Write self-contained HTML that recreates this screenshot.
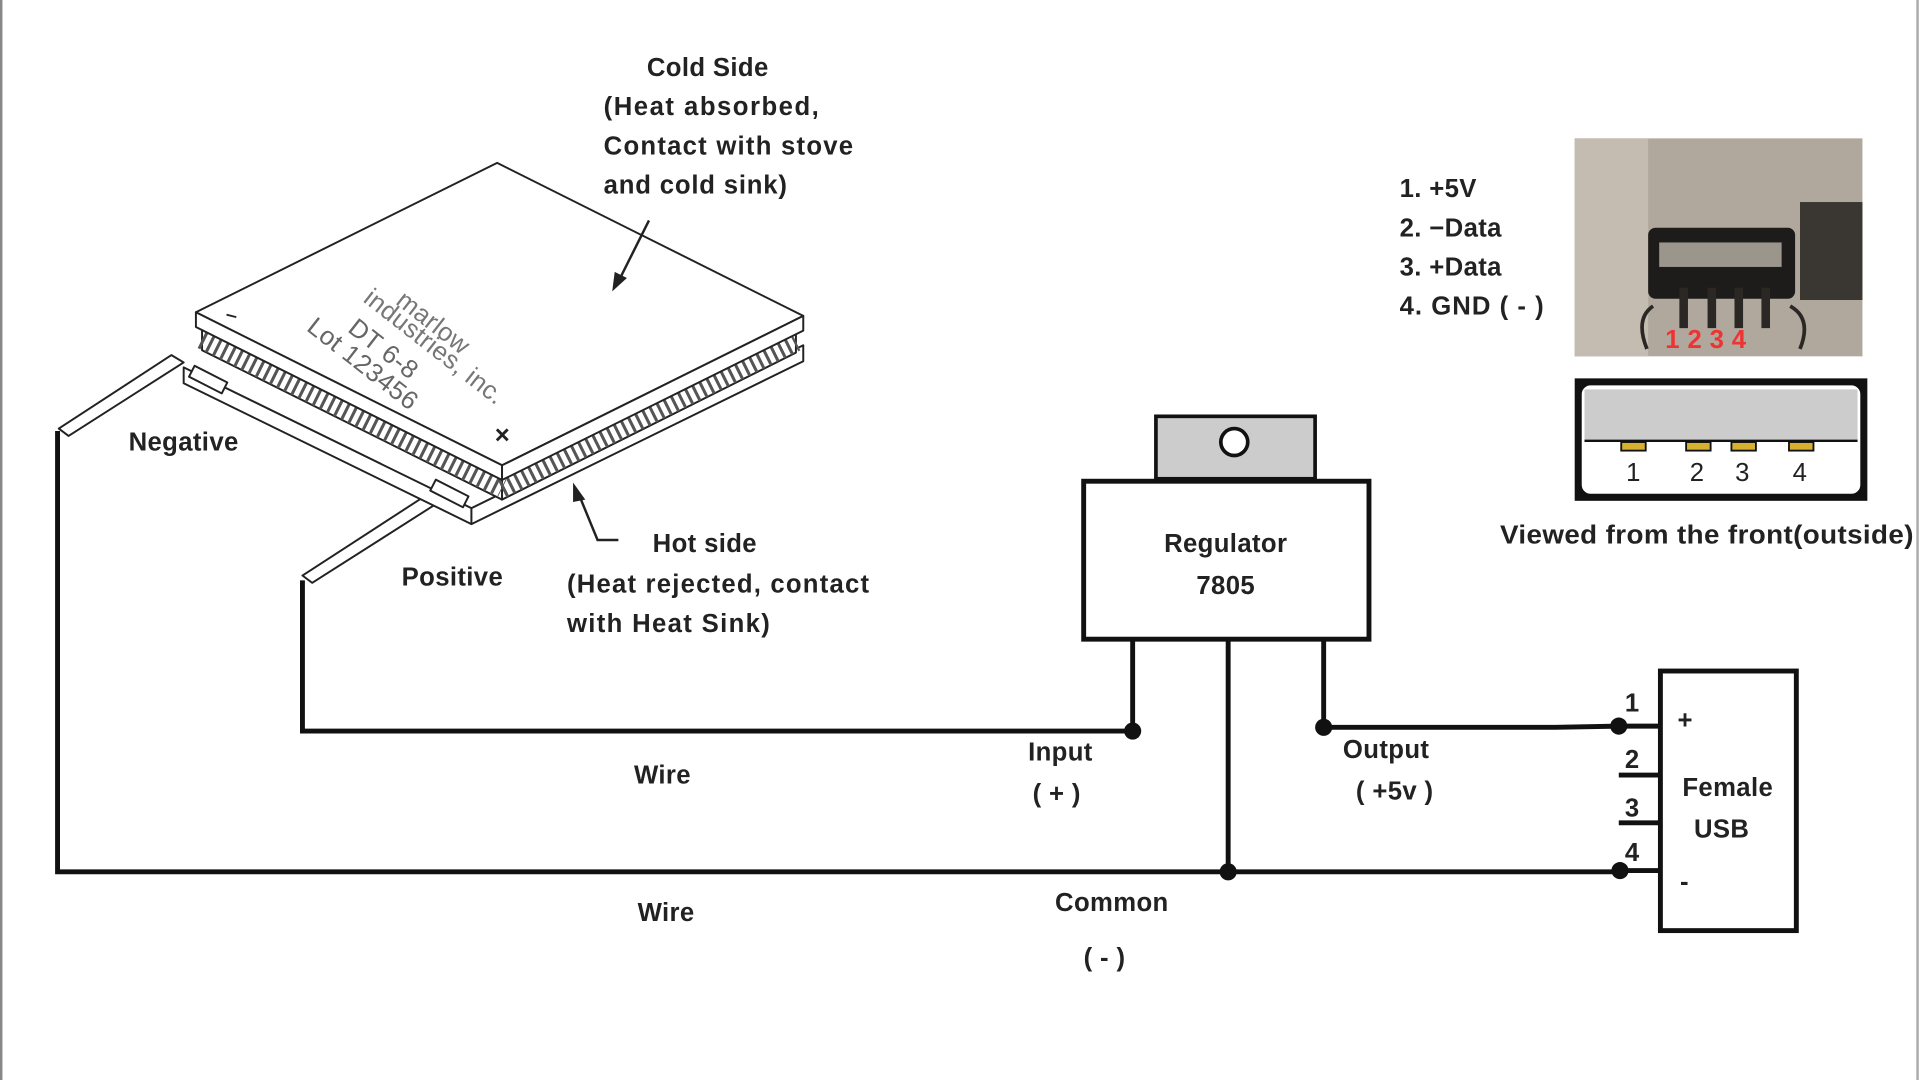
<!DOCTYPE html>
<html><head><meta charset="utf-8"><style>
html,body{margin:0;padding:0;background:#fff;width:1920px;height:1080px;overflow:hidden}
svg{display:block}
text{font-family:"Liberation Sans",sans-serif;font-weight:bold;fill:#222;font-size:21px;letter-spacing:0.3px}
</style></head><body>
<svg width="1920" height="1080" viewBox="0 0 1568 882" preserveAspectRatio="none">
<rect x="0" y="0" width="1568" height="882" fill="#fff"/>
<line x1="1" y1="0" x2="1" y2="882" stroke="#888" stroke-width="2"/>
<line x1="1566" y1="0" x2="1566" y2="882" stroke="#aaa" stroke-width="2"/>

<!-- Peltier -->
<g stroke="#222" stroke-width="1.6" fill="#fff" stroke-linejoin="round">
  <polygon points="48,350 140,290 150,296 56,356"/>
  <polygon points="247,470 358,398 368,404 255,476"/>
  <polygon points="150,300 385,415 385,428 150,313"/>
  <polygon points="385,415 656,282 656,295 385,428"/>
  <polygon points="165,268 410,390 410,408 165,286"/>
  <polygon points="410,390 650,270 650,288 410,408"/>
</g>
<line x1="165" y1="277" x2="410" y2="399" stroke="#555" stroke-width="16" stroke-dasharray="2.5 4"/>
<line x1="410" y1="399" x2="650" y2="279" stroke="#555" stroke-width="16" stroke-dasharray="2.5 4"/>
<g stroke="#222" stroke-width="1.6" fill="#fff" stroke-linejoin="round">
  <polygon points="160,255 406,133 656,258 410,380"/>
  <polygon points="160,255 410,380 410,392 160,267"/>
  <polygon points="410,380 656,258 656,270 410,392"/>
  <rect x="155" y="305" width="30" height="10" transform="rotate(27 170 310)"/>
  <rect x="352" y="398" width="30" height="10" transform="rotate(27 367 403)"/>
</g>
<line x1="185" y1="257" x2="193" y2="259" stroke="#222" stroke-width="1.5"/>
<text x="404" y="362" font-size="14">×</text>
<g transform="translate(305,234) rotate(38)">
  <text x="22" y="0" font-size="14" style="fill:#777;font-weight:normal">marlow</text>
  <text x="0" y="15" font-size="14" style="fill:#777;font-weight:normal">industries, inc.</text>
  <text x="5" y="42" font-size="17" style="fill:#666;font-weight:normal">DT 6-8</text>
  <text x="-22" y="62" font-size="17" style="fill:#666;font-weight:normal">Lot 123456</text>
</g>

<line x1="530" y1="180" x2="505" y2="230" stroke="#222" stroke-width="2"/>
<polygon points="500,238 502,222 512,227" fill="#222"/>
<polyline points="505,441 488,441 472,402" fill="none" stroke="#222" stroke-width="2"/>
<polygon points="468,394 478,408 468,410" fill="#222"/>

<g stroke="#111" stroke-width="4" fill="none">
  <polyline points="47,352 47,712 1323,712"/>
  <polyline points="247,474 247,597 925,597 925,522"/>
  <line x1="1003" y1="522" x2="1003" y2="712"/>
  <polyline points="1081,522 1081,594 1270,594 1322,593"/>
  <line x1="1322" y1="593" x2="1356" y2="593"/>
  <line x1="1322" y1="633" x2="1356" y2="633"/>
  <line x1="1322" y1="672" x2="1356" y2="672"/>
  <line x1="1322" y1="711" x2="1356" y2="711"/>
  <rect x="885" y="393" width="233" height="129"/>
  <rect x="1356" y="548" width="111" height="212"/>
</g>
<rect x="944" y="340" width="130" height="51" fill="#ccc" stroke="#111" stroke-width="3"/>
<circle cx="1008" cy="361" r="11" fill="#fff" stroke="#111" stroke-width="3"/>
<g fill="#111">
  <circle cx="925" cy="597" r="7"/><circle cx="1081" cy="594" r="7"/>
  <circle cx="1003" cy="712" r="7"/><circle cx="1323" cy="711" r="7"/><circle cx="1322" cy="593" r="7"/>
</g>

<rect x="1286" y="113" width="235" height="178" fill="#b0a89c"/>
<rect x="1286" y="113" width="60" height="178" fill="#c4bcb0"/>
<rect x="1470" y="165" width="51" height="80" fill="#3a3632"/>
<rect x="1346" y="186" width="120" height="58" rx="6" fill="#1e1c1a"/>
<rect x="1355" y="198" width="100" height="20" fill="#9b958c"/>
<g stroke="#2a2724" stroke-width="7"><line x1="1375" y1="235" x2="1375" y2="268"/><line x1="1398" y1="235" x2="1398" y2="268"/><line x1="1420" y1="235" x2="1420" y2="268"/><line x1="1442" y1="235" x2="1442" y2="268"/></g>
<path d="M1350 250 Q1335 260 1345 285 M1462 250 Q1480 260 1470 285" stroke="#2a2724" stroke-width="3" fill="none"/>
<text x="1360" y="284" font-size="14" style="fill:#e33">1 2 3 4</text>

<rect x="1286" y="309" width="239" height="100" fill="#111"/>
<rect x="1291" y="314" width="229" height="90" rx="8" fill="#fff" stroke="#111" stroke-width="1.5"/>
<rect x="1294" y="318" width="223" height="42" fill="#ccc"/>
<line x1="1294" y1="360" x2="1517" y2="360" stroke="#111" stroke-width="2"/>
<g fill="#d8b030" stroke="#111" stroke-width="1.5"><rect x="1324" y="361" width="20" height="7"/><rect x="1377" y="361" width="20" height="7"/><rect x="1414" y="361" width="20" height="7"/><rect x="1461" y="361" width="20" height="7"/></g>
<text x="1328" y="393" style="font-weight:normal">1</text><text x="1380" y="393" style="font-weight:normal">2</text><text x="1417" y="393" style="font-weight:normal">3</text><text x="1464" y="393" style="font-weight:normal">4</text>

<text x="578" y="62" text-anchor="middle">Cold Side</text>
<text x="493" y="94" textLength="176">(Heat absorbed,</text>
<text x="493" y="126" textLength="204">Contact with stove</text>
<text x="493" y="158" textLength="150">and cold sink)</text>
<text x="533" y="451">Hot side</text>
<text x="463" y="484" textLength="247">(Heat rejected, contact</text>
<text x="463" y="516" textLength="166">with Heat Sink)</text>
<text x="105" y="368" font-size="17">Negative</text>
<text x="328" y="478" font-size="17">Positive</text>
<text x="541" y="640" text-anchor="middle">Wire</text>
<text x="544" y="752" text-anchor="middle">Wire</text>
<text x="866" y="621" text-anchor="middle">Input</text>
<text x="863" y="655" text-anchor="middle">( + )</text>
<text x="1132" y="619" text-anchor="middle">Output</text>
<text x="1139" y="653" text-anchor="middle">( +5v )</text>
<text x="908" y="744" text-anchor="middle">Common</text>
<text x="902" y="789" text-anchor="middle">( - )</text>
<text x="1001" y="451" text-anchor="middle">Regulator</text>
<text x="1001" y="485" text-anchor="middle">7805</text>
<text x="1411" y="650" text-anchor="middle">Female</text>
<text x="1406" y="684" text-anchor="middle">USB</text>
<text x="1370" y="595" font-size="18">+</text>
<text x="1372" y="727" font-size="18">-</text>
<text x="1327" y="581">1</text>
<text x="1327" y="627">2</text>
<text x="1327" y="667">3</text>
<text x="1327" y="703">4</text>
<text x="1143" y="161">1. +5V</text>
<text x="1143" y="193">2. −Data</text>
<text x="1143" y="225">3. +Data</text>
<text x="1143" y="257" textLength="118">4. GND ( - )</text>
<text x="1394" y="444" text-anchor="middle" textLength="338" lengthAdjust="spacingAndGlyphs">Viewed from the front(outside)</text>
</svg>
</body></html>
